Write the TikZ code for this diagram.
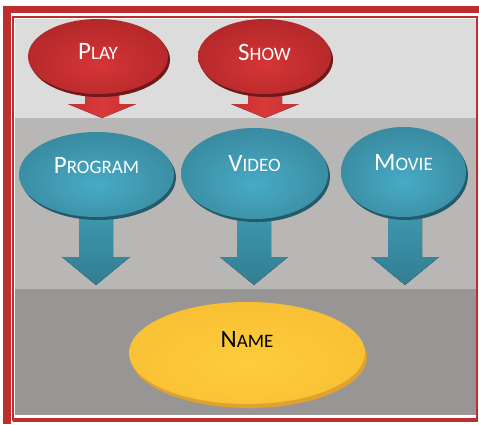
\documentclass[tikz,border=0pt]{standalone}
\usepackage{fontspec}
\setmainfont{Carlito}
\usetikzlibrary{shapes.geometric, shadows, backgrounds, calc}

\definecolor{framered}{HTML}{BE2E2E}
\definecolor{bandtop}{HTML}{DCDCDC}
\definecolor{bandmid}{HTML}{B9B7B5}
\definecolor{bandlow}{HTML}{979695}
\definecolor{redin}{HTML}{D63536}
\definecolor{redout}{HTML}{A32224}
\definecolor{redshade}{HTML}{6F1919}
\definecolor{redarrow}{HTML}{C92E2F}
\definecolor{redarrowlt}{HTML}{D83A3A}
\definecolor{tealin}{HTML}{48ABC5}
\definecolor{tealout}{HTML}{317B8F}
\definecolor{tealshade}{HTML}{245B6A}
\definecolor{tealtop}{HTML}{45A5BF}
\definecolor{tealbot}{HTML}{327E92}
\definecolor{goldin}{HTML}{FDCD3B}
\definecolor{goldout}{HTML}{F6B830}
\definecolor{goldshade}{HTML}{E0A22E}

\pgfdeclareradialshading{redball}{\pgfpoint{0bp}{-6bp}}{color(0bp)=(redin); color(42bp)=(redout); color(60bp)=(redout)}
\pgfdeclareradialshading{tealball}{\pgfpoint{0bp}{-6bp}}{color(0bp)=(tealin); color(42bp)=(tealout); color(60bp)=(tealout)}
\pgfdeclareradialshading{goldball}{\pgfpoint{0bp}{-6bp}}{color(0bp)=(goldin); color(45bp)=(goldout); color(60bp)=(goldout)}

\tikzset{
  bubble/.style={ellipse, inner sep=0pt, shade, shading=#1},
  redbubble/.style={bubble=redball, text=white,
    general shadow={fill=redshade, shadow xshift=2pt, shadow yshift=-3pt}},
  tealbubble/.style={bubble=tealball, text=white,
    general shadow={fill=tealshade, shadow xshift=2pt, shadow yshift=-3pt}},
  goldbubble/.style={bubble=goldball, text=black,
    general shadow={fill=goldshade, shadow xshift=2pt, shadow yshift=-4pt}},
  lift/.style={text depth=#1},
  redblock/.style={left color=redarrow, right color=redarrow, middle color=redarrowlt},
  tealblock/.style={top color=tealtop, bottom color=tealbot}
}

% first letter large, the rest as small capitals
\newcommand{\capword}[2]{{\fontsize{25}{28}\selectfont #1}{\fontsize{19}{22}\selectfont #2}}
% block arrow: style, node it leaves, tip, head length
\newcommand{\blockarrow}[4]{%
  \fill[#1] let \p1=(#2.center), \p2=(#3) in
    (\x2-17pt,\y1) -- (\x2-17pt,\y2+#4) -- (\x2-34pt,\y2+#4) -- (\p2)
    -- (\x2+34pt,\y2+#4) -- (\x2+17pt,\y2+#4) -- (\x2+17pt,\y1) -- cycle;}

\begin{document}
\begin{tikzpicture}[x=1pt, y=-1pt]
	\useasboundingbox (0,0) rectangle (479,424);

	% frame
	\fill [framered] (3.3,6) rectangle (11,424);
	\fill [framered] (3.3,6) rectangle (479,13);
	\draw [framered, line width=1.5pt] (13.2,421) -- (13.2,16.8) -- (477,16.8) -- (477,421);
	\fill [framered] (13.2,417.7) rectangle (478,421.7);

	% bubbles
	\node [redbubble, minimum width=140pt, minimum height=75pt, lift=10pt] (play) at (98,56.5) {\capword{P}{LAY}};
	\node [redbubble, minimum width=133pt, minimum height=75pt, lift=8pt] (show) at (264.5,56.5) {\capword{S}{HOW}};
	\node [tealbubble, minimum width=155pt, minimum height=85pt, lift=19pt] (program) at (96.5,174.5) {\capword{P}{ROGRAM}};
	\node [tealbubble, minimum width=147pt, minimum height=91pt, lift=21pt] (video) at (254.5,173.5) {\capword{V}{IDEO}};
	\node [tealbubble, minimum width=125pt, minimum height=90pt, lift=20pt] (movie) at (403.5,172) {\capword{M}{OVIE}};
	\node [goldbubble, minimum width=236pt, minimum height=102pt, lift=28pt] (name) at (247,353) {\capword{N}{AME}};

	\coordinate (playtip) at (102,118);
	\coordinate (showtip) at (265,118);
	\coordinate (programtip) at (96,285);
	\coordinate (videotip) at (254,285);
	\coordinate (movietip) at (405,285);

	\begin{scope}[on background layer]
		\fill [bandtop] (15,19) rectangle (476,118);
		\fill [bandmid] (15,118) rectangle (476,289);
		\fill [bandlow] (15,289) rectangle (476,415);
		\blockarrow{redblock}{play}{playtip}{14pt}
		\blockarrow{redblock}{show}{showtip}{14pt}
		\blockarrow{tealblock}{program}{programtip}{28pt}
		\blockarrow{tealblock}{video}{videotip}{28pt}
		\blockarrow{tealblock}{movie}{movietip}{28pt}
	\end{scope}
\end{tikzpicture}
\end{document}
